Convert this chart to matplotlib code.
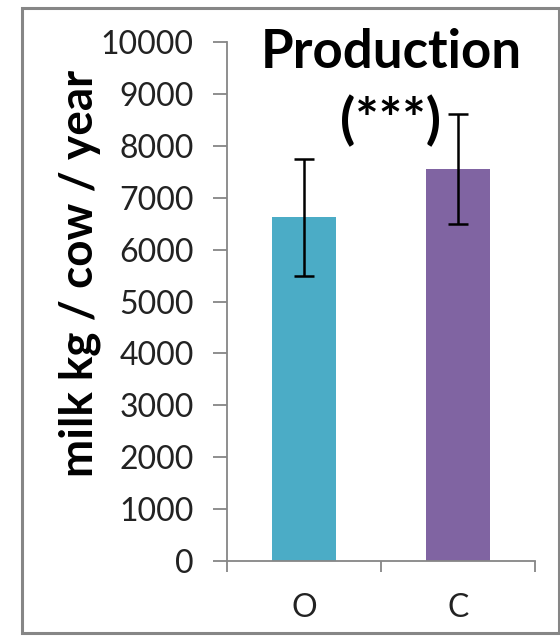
import matplotlib
matplotlib.use("Agg")
import matplotlib.pyplot as plt
from matplotlib.patches import Rectangle

categories = ["O", "C"]
values = [6620, 7550]
err_low = [1125, 1060]
err_high = [1125, 1060]
colors = ["#4BACC6", "#8064A2"]
yticks = [0, 1000, 2000, 3000, 4000, 5000, 6000, 7000, 8000, 9000, 10000]

plt.rcParams['font.family'] = ['Lato', 'DejaVu Sans']

W, H = 560, 637
fig = plt.figure(figsize=(W / 100, H / 100), dpi=100)
ax = fig.add_axes([227 / W, 1 - 561 / H, (535 - 227) / W, (561 - 42) / H])

x = list(range(len(categories)))
ax.bar(x, values, width=0.41, color=colors, zorder=2)
ax.errorbar(x, values, yerr=[err_low, err_high], fmt='none', ecolor='black',
            elinewidth=1.8, capsize=7, capthick=1.8, zorder=3)

ax.set_xlim(-0.5, len(categories) - 0.5)
ax.set_ylim(0, 10000)
ax.set_yticks(yticks)
ax.set_yticklabels([str(v) for v in yticks], fontsize=23, color='#222222')
ax.set_xticks([-0.5, 0.5, 1.5])
ax.set_xticklabels(['', '', ''])
ax.set_xticks(x, minor=True)
ax.set_xticklabels(categories, minor=True, fontsize=23, color='#222222')
ax.tick_params(axis='x', which='minor', length=0, pad=23)
ax.tick_params(axis='x', which='major', length=8, width=1.3, color='#868686', direction='out')
ax.tick_params(axis='y', length=10, width=1.3, color='#868686', direction='out', pad=14)

for s in ['top', 'right']:
    ax.spines[s].set_visible(False)
for s in ['left', 'bottom']:
    ax.spines[s].set_color('#868686')
    ax.spines[s].set_linewidth(1.3)

fig.text(80 / W, 1 - 273 / H, "milk kg / cow / year", rotation=90, ha='center', va='center',
         fontsize=33, fontweight='bold')
fig.text(391 / W, 1 - 68 / H, "Production", ha='center', va='baseline',
         fontsize=38, fontweight='bold')
fig.text(391 / W, 1 - 121 / H, "(***)", ha='center', va='center',
         fontsize=40, fontweight='bold')

fig.patches.append(Rectangle((22 / W, 1 - 633 / H), (559 - 22) / W, (633 - 8) / H,
                             transform=fig.transFigure, fill=False,
                             edgecolor='#868686', linewidth=2.2, zorder=10))

fig.savefig("out.png", dpi=100)
